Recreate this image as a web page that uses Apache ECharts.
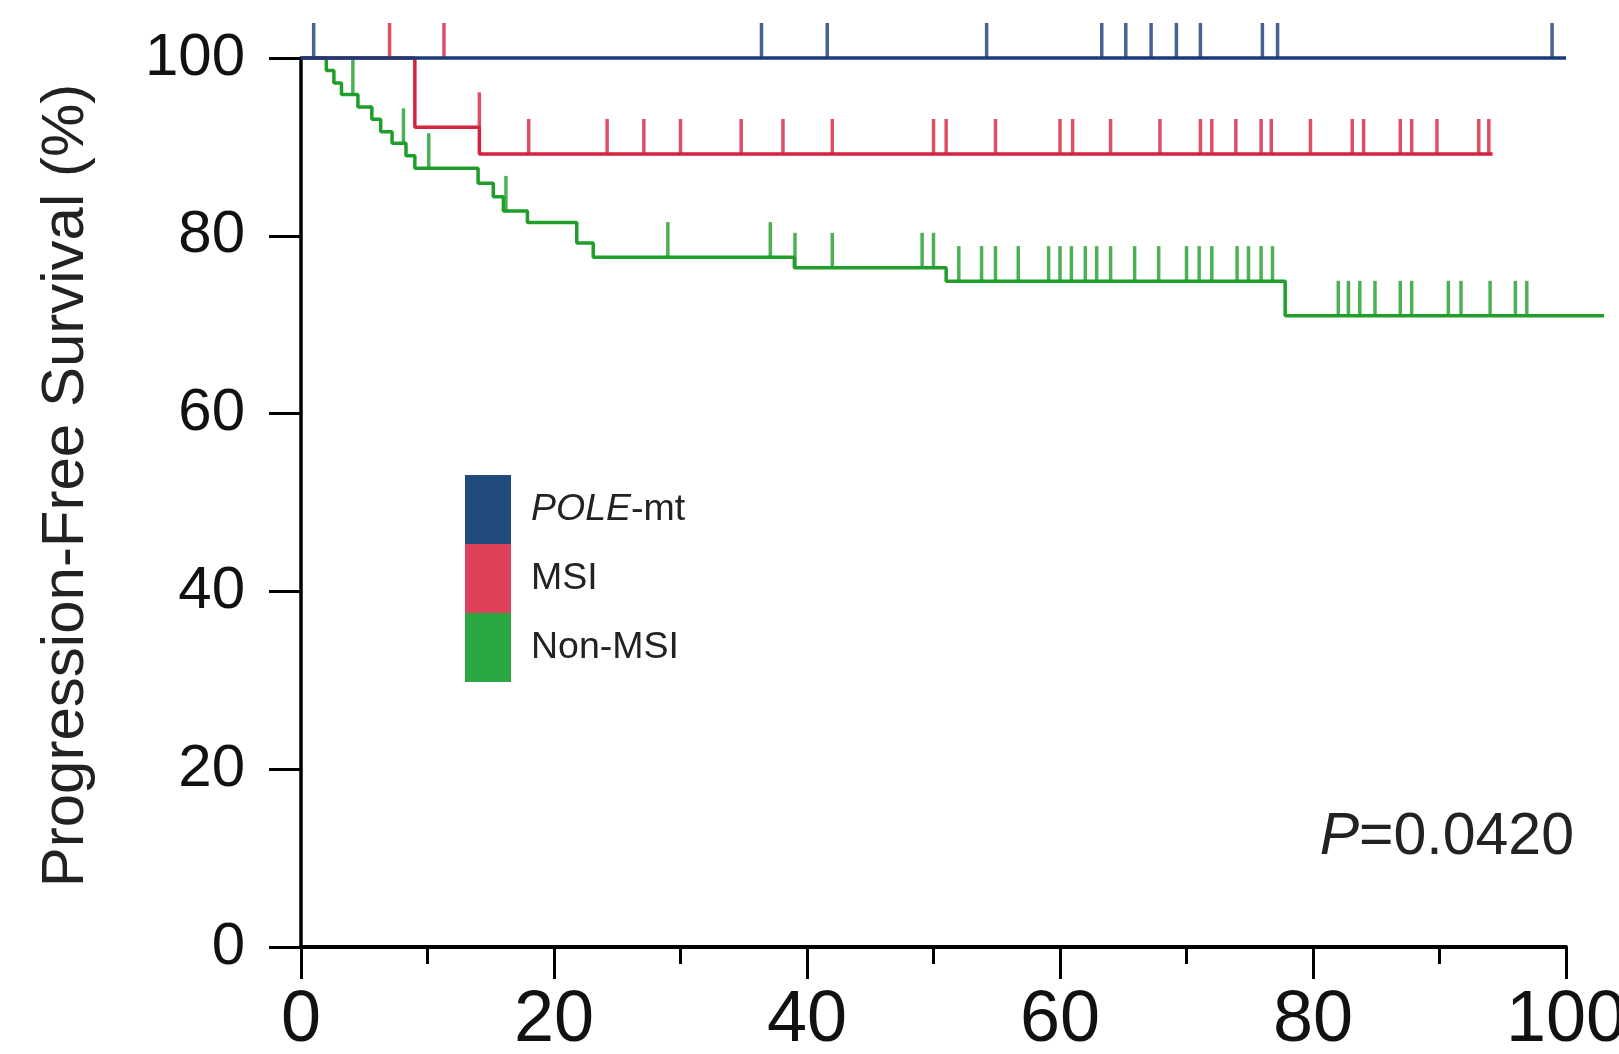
<!DOCTYPE html>
<html>
<head>
<meta charset="utf-8">
<style>
  html, body { margin: 0; padding: 0; background: #fff; }
  #chart { width: 1619px; height: 1054px; }
</style>
<script src="https://cdn.jsdelivr.net/npm/echarts@6/dist/echarts.min.js"></script>
</head>
<body>
<div id="chart"></div>
<script>
// Kaplan-Meier curves, [months, survival %] after each step
const poleCurve = [[0, 100], [100, 100]];
const msiCurve = [[0, 100], [9.0, 92.2], [14.1, 89.2], [94.2, 89.2]];
const nonMsiCurve = [
  [0, 100], [2.0, 98.6], [2.6, 97.2], [3.2, 95.9], [4.5, 94.5], [5.6, 93.1],
  [6.3, 91.7], [7.2, 90.4], [8.3, 89.0], [9.0, 87.6], [14.0, 85.9], [15.2, 84.4],
  [16.0, 82.8], [17.9, 81.5], [21.8, 79.2], [23.1, 77.6], [39.0, 76.4],
  [51.0, 74.9], [77.8, 71.0], [103, 71.0]
];

// censored observations, [months, survival %]
const poleCensor = [
  [1.0, 100], [36.4, 100], [41.6, 100], [54.2, 100], [63.3, 100], [65.2, 100],
  [67.2, 100], [69.2, 100], [71.1, 100], [76.0, 100], [77.2, 100], [98.9, 100]
];
const msiCensor = [
  [7.0, 100], [11.3, 100], [14.1, 92.2],
  [18.0, 89.2], [24.2, 89.2], [27.1, 89.2], [30.0, 89.2], [34.8, 89.2], [38.1, 89.2],
  [42.0, 89.2], [50.0, 89.2], [51.0, 89.2], [54.9, 89.2], [60.0, 89.2], [61.0, 89.2],
  [64.0, 89.2], [67.9, 89.2], [71.1, 89.2], [72.0, 89.2], [73.9, 89.2], [75.9, 89.2],
  [76.7, 89.2], [79.8, 89.2], [83.1, 89.2], [84.0, 89.2], [86.9, 89.2], [87.8, 89.2],
  [89.8, 89.2], [93.1, 89.2], [93.9, 89.2]
];
const nonMsiCensor = [
  [4.1, 95.9], [8.1, 90.4], [10.1, 87.6], [16.2, 82.8], [29.0, 77.6], [37.1, 77.6],
  [39.05, 76.4], [42.0, 76.4], [49.1, 76.4], [50.0, 76.4],
  [52.0, 74.9], [53.8, 74.9], [54.9, 74.9], [56.7, 74.9], [59.1, 74.9], [60.0, 74.9],
  [60.9, 74.9], [62.0, 74.9], [62.9, 74.9], [64.0, 74.9], [65.9, 74.9], [67.8, 74.9],
  [70.0, 74.9], [71.0, 74.9], [72.0, 74.9], [74.0, 74.9], [74.9, 74.9], [75.9, 74.9],
  [76.8, 74.9],
  [82.0, 71.0], [82.8, 71.0], [83.7, 71.0], [84.9, 71.0], [86.9, 71.0], [87.8, 71.0],
  [90.7, 71.0], [91.7, 71.0], [94.0, 71.0], [96.0, 71.0], [96.9, 71.0]
];

const groupNames = ['POLE-mt', 'MSI', 'Non-MSI'];
const lineColors = ['#1a3a78', '#d4233f', '#1f9e2a'];
const legendColors = ['#1f4b7d', '#df4059', '#2aa844'];
const pValueText = '{i|P}=0.0420';

// the Non-MSI follow-up runs a little past the last x tick, so the curves
// live on a hidden axis that reaches 103 while the visible one stops at 100
const plotMaxX = 103;

const chart = echarts.init(document.getElementById('chart'));
const font = 'Liberation Sans, Arial, sans-serif';

function curve(name, data, color) {
  return {
    name: name,
    type: 'line',
    step: 'end',
    xAxisIndex: 1,
    yAxisIndex: 1,
    data: data,
    symbol: 'none',
    clip: false,
    lineStyle: { color: color, width: 3.5 },
    itemStyle: { color: color }
  };
}

function censor(name, data, color) {
  return {
    name: name,
    type: 'scatter',
    xAxisIndex: 1,
    yAxisIndex: 1,
    data: data,
    clip: false,
    symbol: 'rect',
    symbolSize: [3.5, 35],
    symbolOffset: [0, '-50%'],
    itemStyle: { color: color },
    silent: true
  };
}

const gridWidth = 1619 - 301 - 53;

const option = {
  backgroundColor: '#fff',
  animation: false,
  grid: [
    { left: 301, right: 53, top: 58, bottom: 107, outerBoundsMode: 'none' },
    { left: 301, width: gridWidth * plotMaxX / 100, top: 58, bottom: 107, outerBoundsMode: 'none' }
  ],
  title: {
    text: pValueText,
    right: 40,
    top: 803,
    textStyle: {
      fontFamily: font,
      fontSize: 59,
      fontWeight: 'normal',
      color: '#222',
      rich: { i: { fontStyle: 'italic', fontSize: 59, color: '#222', fontFamily: font } }
    }
  },
  legend: {
    orient: 'vertical',
    left: 460,
    top: 470,
    itemWidth: 46,
    itemHeight: 69,
    itemGap: 0,
    icon: 'rect',
    selectedMode: false,
    data: groupNames.map((n, i) => ({ name: n, itemStyle: { color: legendColors[i] } })),
    formatter: name => name === 'POLE-mt' ? '{i|POLE}-mt' : name,
    textStyle: {
      fontFamily: font,
      fontSize: 37.5,
      color: '#222',
      padding: [0, 0, 0, 15],
      rich: { i: { fontStyle: 'italic', fontSize: 37.5, color: '#222', fontFamily: font } }
    }
  },
  xAxis: [
    {
      type: 'value',
      gridIndex: 0,
      min: 0,
      max: 100,
      interval: 20,
      axisLine: { show: true, onZero: false, lineStyle: { color: '#000', width: 4 } },
      axisTick: { show: true, length: 32, lineStyle: { color: '#000', width: 3 } },
      minorTick: { show: true, splitNumber: 2, length: 17, lineStyle: { color: '#000', width: 3 } },
      splitLine: { show: false },
      axisLabel: { margin: 38, fontSize: 72, color: '#111', fontFamily: font }
    },
    {
      type: 'value',
      gridIndex: 1,
      min: 0,
      max: plotMaxX,
      show: false
    }
  ],
  yAxis: [
    {
      type: 'value',
      gridIndex: 0,
      min: 0,
      max: 100,
      interval: 20,
      name: 'Progression-Free Survival (%)',
      nameLocation: 'middle',
      nameGap: 205,
      nameTextStyle: { fontFamily: font, fontSize: 60, color: '#222', padding: [0, 0, 0, 34] },
      axisLine: { show: true, onZero: false, lineStyle: { color: '#000', width: 3.5 } },
      axisTick: { show: true, length: 32, lineStyle: { color: '#000', width: 3 } },
      splitLine: { show: false },
      axisLabel: { margin: 56, fontSize: 60, color: '#111', fontFamily: font }
    },
    {
      type: 'value',
      gridIndex: 1,
      min: 0,
      max: 100,
      show: false
    }
  ],
  series: [
    curve('Non-MSI', nonMsiCurve, lineColors[2]),
    censor('Non-MSI censored', nonMsiCensor, lineColors[2]),
    curve('MSI', msiCurve, lineColors[1]),
    censor('MSI censored', msiCensor, lineColors[1]),
    curve('POLE-mt', poleCurve, lineColors[0]),
    censor('POLE-mt censored', poleCensor, lineColors[0])
  ]
};

chart.setOption(option);
</script>
</body>
</html>
